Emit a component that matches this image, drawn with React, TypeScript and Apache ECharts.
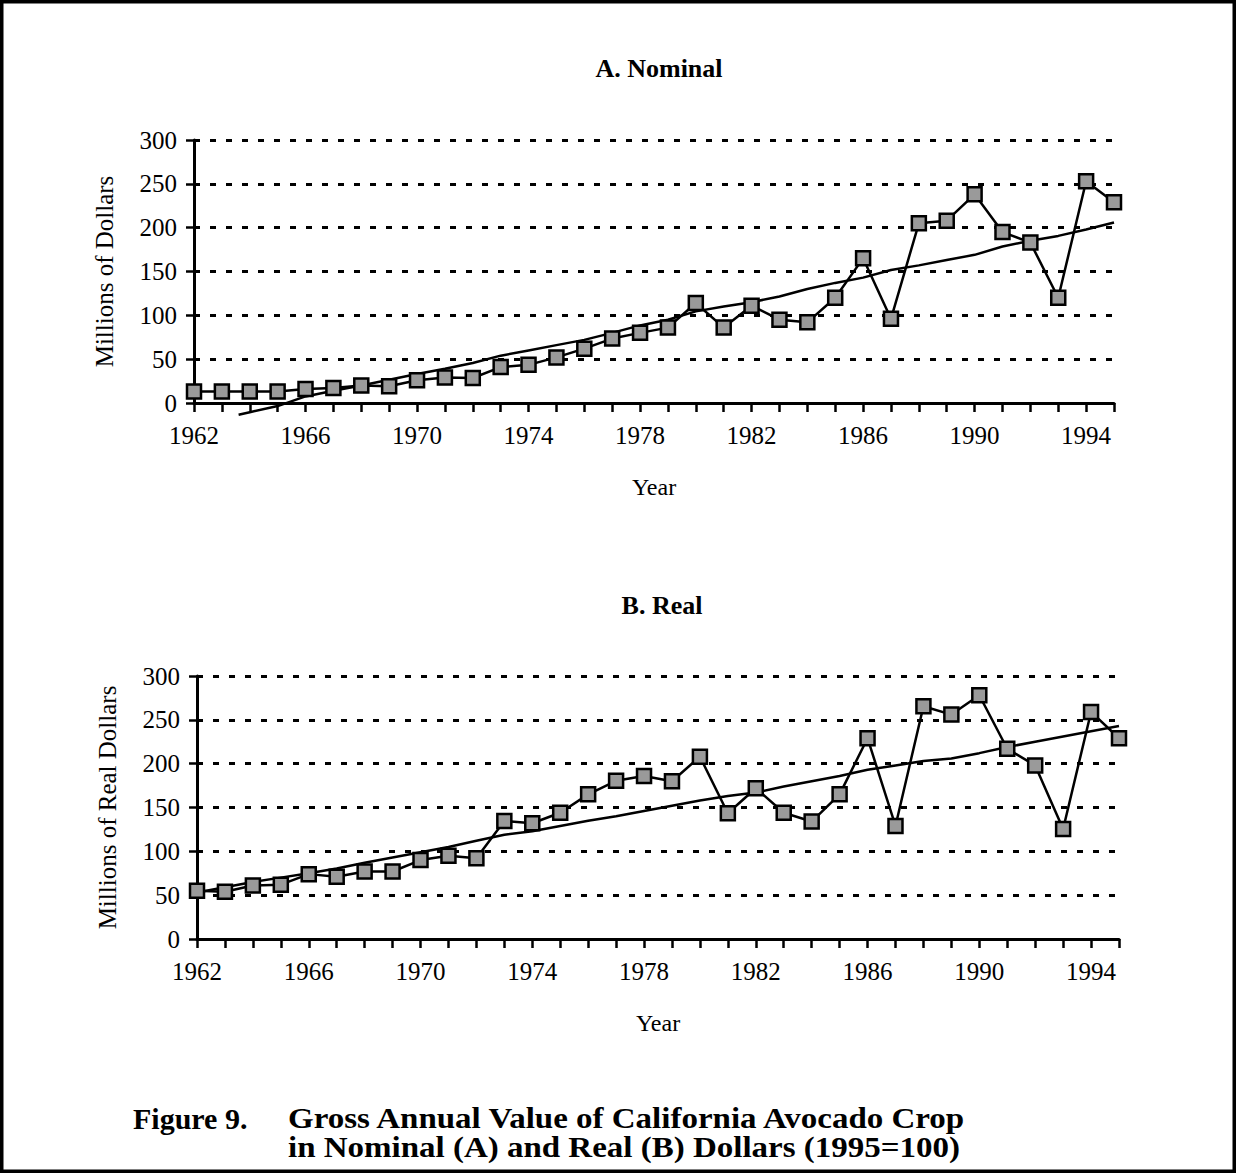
import React, { useEffect, useRef } from "react";
import * as echarts from "echarts";

const years = [
  1962, 1963, 1964, 1965, 1966, 1967, 1968, 1969, 1970, 1971, 1972, 1973,
  1974, 1975, 1976, 1977, 1978, 1979, 1980, 1981, 1982, 1983, 1984, 1985,
  1986, 1987, 1988, 1989, 1990, 1991, 1992, 1993, 1994, 1995,
];

const nominalValues = [
  13, 13, 13, 13, 16, 17, 20, 19, 26, 29, 28.5, 41, 43.5, 52, 62, 73.5, 80,
  86, 114, 86, 111, 95, 92, 120, 165, 96, 205, 208, 238, 195, 183, 120, 253,
  229,
];

const realValues = [
  55, 54, 61, 62, 74, 71, 77, 77, 90, 95, 92, 134.6, 132, 144, 165, 180.5,
  186, 180, 208, 143.5, 172, 144, 134, 165, 229, 129, 265.5, 256, 278, 217,
  198, 125.5, 259, 229,
];

// Nominal trend line: begins part-way through 1963, then yearly 1964..1995
const nominalTrendStart = [1963.6, -13.3];
const nominalTrendYears = years.slice(2);
const nominalTrend = [
  -10.5, -3.5, 7.5, 14, 20, 26.5, 33, 39, 45.6, 54, 60, 66, 72, 80, 88.5, 95,
  104.5, 110, 115, 121.5, 130, 137, 143, 151.8, 157, 163, 169, 178.5, 185,
  190.6, 198, 205.8,
];

const realTrend = [
  53, 59, 65, 70, 75, 80.5, 87, 93, 99, 105, 112, 119, 123, 129, 135, 140,
  146, 152, 158, 163, 167, 174, 180, 186, 193, 198, 203, 206, 212, 219, 225,
  231, 237, 243,
];

const yTicks = [0, 50, 100, 150, 200, 250, 300];

const captionLabel = "Figure 9.";
const captionLines = [
  "Gross Annual Value of California Avocado Crop",
  "in Nominal (A) and Real (B) Dollars (1995=100)",
];

const FONT = "'Liberation Serif', 'Times New Roman', serif";

function xAxisCfg(gridIndex: number) {
  return {
    type: "value" as const,
    gridIndex,
    min: years[0],
    max: years[years.length - 1],
    interval: 1,
    name: "Year",
    nameLocation: "middle" as const,
    nameGap: 72,
    nameTextStyle: { fontFamily: FONT, fontSize: 24, color: "#000" },
    axisLine: { show: true, lineStyle: { color: "#000", width: 3 } },
    axisTick: { show: true, inside: false, length: 9, lineStyle: { color: "#000", width: 2.5 } },
    axisLabel: {
      fontFamily: FONT,
      fontSize: 25,
      color: "#000",
      margin: 20,
      showMinLabel: true,
      showMaxLabel: true,
      formatter: (v: number) => ((v - years[0]) % 4 === 0 ? String(v) : ""),
    },
    splitLine: { show: false },
  };
}

function yAxisCfg(gridIndex: number, name: string) {
  return {
    type: "value" as const,
    gridIndex,
    min: yTicks[0],
    max: yTicks[yTicks.length - 1],
    interval: 50,
    name,
    nameLocation: "middle" as const,
    nameGap: 77,
    nameTextStyle: { fontFamily: FONT, fontSize: 25, color: "#000" },
    axisLine: { show: true, lineStyle: { color: "#000", width: 3 } },
    axisTick: { show: true, inside: false, length: 8, lineStyle: { color: "#000", width: 2.5 } },
    axisLabel: { fontFamily: FONT, fontSize: 25, color: "#000", margin: 17 },
    splitLine: {
      show: true,
      lineStyle: { color: "#000", width: 3, type: [6, 10] as any },
    },
  };
}

const markerStyle = {
  color: "#9a9a9a",
  borderColor: "#000",
  borderWidth: 2.5,
};

export default function App() {
  const ref = useRef<HTMLDivElement>(null);

  useEffect(() => {
    document.body.style.margin = "0";
    if (!ref.current) return;
    const chart = echarts.init(ref.current, undefined, { renderer: "svg" });

    const nominalTrendData = [nominalTrendStart].concat(
      nominalTrendYears.map((y, i) => [y, nominalTrend[i]])
    );

    const captionStyle = {
      fontFamily: FONT,
      fontSize: 30,
      fontWeight: "bold",
      lineHeight: 29,
      fill: "#000",
    };

    chart.setOption({
      animation: false,
      backgroundColor: "#fff",
      title: [
        {
          text: "A. Nominal",
          left: 654,
          top: 50,
          textAlign: "center",
          textStyle: { fontFamily: FONT, fontSize: 26, fontWeight: "bold", color: "#000" },
        },
        {
          text: "B. Real",
          left: 657,
          top: 587,
          textAlign: "center",
          textStyle: { fontFamily: FONT, fontSize: 26, fontWeight: "bold", color: "#000" },
        },
      ],
      grid: [
        { left: 194, top: 140, width: 920, height: 263 },
        { left: 197, top: 676, width: 922, height: 263 },
      ],
      xAxis: [xAxisCfg(0), xAxisCfg(1)],
      yAxis: [
        yAxisCfg(0, "Millions of Dollars"),
        yAxisCfg(1, "Millions of Real Dollars"),
      ],
      series: [
        {
          type: "line",
          xAxisIndex: 0,
          yAxisIndex: 0,
          data: nominalTrendData,
          showSymbol: false,
          symbol: "none",
          clip: false,
          lineStyle: { color: "#000", width: 2.5 },
          z: 2,
        },
        {
          type: "line",
          xAxisIndex: 0,
          yAxisIndex: 0,
          data: years.map((y, i) => [y, nominalValues[i]]),
          symbol: "rect",
          symbolSize: 14,
          itemStyle: markerStyle,
          lineStyle: { color: "#000", width: 2.5 },
          clip: false,
          z: 3,
        },
        {
          type: "line",
          xAxisIndex: 1,
          yAxisIndex: 1,
          data: years.map((y, i) => [y, realTrend[i]]),
          showSymbol: false,
          symbol: "none",
          clip: false,
          lineStyle: { color: "#000", width: 2.5 },
          z: 2,
        },
        {
          type: "line",
          xAxisIndex: 1,
          yAxisIndex: 1,
          data: years.map((y, i) => [y, realValues[i]]),
          symbol: "rect",
          symbolSize: 14,
          itemStyle: markerStyle,
          lineStyle: { color: "#000", width: 2.5 },
          clip: false,
          z: 3,
        },
      ],
      graphic: [
        {
          type: "rect",
          shape: { x: 1.75, y: 1.75, width: 1232.5, height: 1169.5 },
          style: { fill: "none", stroke: "#000", lineWidth: 3.5 },
          z: 10,
        },
        {
          type: "text",
          x: 133,
          y: 1104,
          style: { ...captionStyle, text: captionLabel },
        },
        {
          type: "text",
          x: 288,
          y: 1104,
          scaleX: 1.1,
          style: { ...captionStyle, text: captionLines[0] },
        },
        {
          type: "text",
          x: 288,
          y: 1133,
          scaleX: 1.1,
          style: { ...captionStyle, text: captionLines[1] },
        },
      ],
    });

    return () => chart.dispose();
  }, []);

  return (
    <div
      ref={ref}
      style={{ position: "absolute", left: 0, top: 0, width: 1236, height: 1173 }}
    />
  );
}
